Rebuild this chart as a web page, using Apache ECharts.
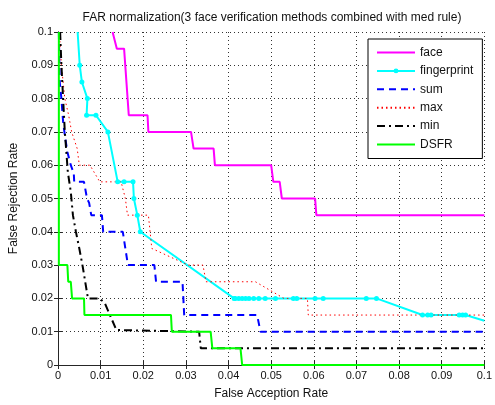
<!DOCTYPE html>
<html>
<head>
<meta charset="utf-8">
<script src="https://cdn.jsdelivr.net/npm/echarts/dist/echarts.min.js"></script>
<style>
html,body{margin:0;padding:0;background:#fff}
#main{width:495px;height:405px}
</style>
</head>
<body>
<div id="main"></div>
<script>
var tickLabels=['0','0.01','0.02','0.03','0.04','0.05','0.06','0.07','0.08','0.09','0.1']
var names=['face','fingerprint','sum','max','min','DSFR']

var face=[[0.0128,0.1],[0.0138,0.095],[0.0155,0.095],[0.0166,0.075],[0.021,0.075],[0.0212,0.07],
  [0.0312,0.07],[0.0318,0.065],[0.0365,0.065],[0.0368,0.06],[0.050,0.06],[0.0505,0.055],
  [0.052,0.055],[0.0525,0.05],[0.0603,0.05],[0.0606,0.045],[0.1,0.045]]
var fingerprint=[[0.0046,0.1],[0.0051,0.09],[0.0056,0.085],[0.0069,0.08],[0.0067,0.075],[0.0089,0.075],
  [0.0117,0.07],[0.014,0.055],[0.0155,0.055],[0.0176,0.055],[0.0178,0.05],[0.0186,0.045],[0.0193,0.04],
  [0.0413,0.02],[0.0416,0.02],[0.0424,0.02],[0.0432,0.02],[0.044,0.02],[0.0448,0.02],[0.0459,0.02],
  [0.0471,0.02],[0.0486,0.02],[0.051,0.02],[0.0552,0.02],[0.056,0.02],[0.0603,0.02],[0.0622,0.02],
  [0.0723,0.02],[0.0747,0.02],[0.0855,0.015],[0.0867,0.015],[0.0875,0.015],[0.0941,0.015],
  [0.0949,0.015],[0.0956,0.015],[0.1,0.0133]]
var sum=[[0.0002,0.1],[0.0004,0.085],[0.0008,0.08],[0.0012,0.073],[0.0016,0.069],[0.0022,0.064],
  [0.003,0.06],[0.0037,0.0576],[0.0038,0.055],[0.0061,0.055],[0.0068,0.05],[0.0073,0.0487],
  [0.0078,0.045],[0.0103,0.045],[0.0106,0.04],[0.0152,0.04],[0.0164,0.03],[0.0226,0.03],
  [0.023,0.025],[0.0292,0.025],[0.0296,0.015],[0.0467,0.015],[0.0475,0.01],[0.1,0.01]]
var max=[[0.0003,0.1],[0.0008,0.09],[0.0012,0.085],[0.0016,0.08],[0.0025,0.075],[0.0032,0.07],
  [0.0045,0.065],[0.005,0.06],[0.0075,0.06],[0.0098,0.055],[0.0148,0.055],[0.0158,0.05],
  [0.0163,0.045],[0.0212,0.045],[0.022,0.035],[0.0305,0.03],[0.034,0.03],[0.0347,0.025],
  [0.0463,0.025],[0.053,0.02],[0.0585,0.02],[0.0587,0.015],[0.1,0.015]]
var min=[[0.0005,0.1],[0.0008,0.09],[0.0012,0.08],[0.0016,0.07],[0.0019,0.065],[0.0023,0.058],
  [0.003,0.052],[0.0035,0.045],[0.0042,0.04],[0.005,0.035],[0.0058,0.0295],[0.0069,0.021],
  [0.007,0.02],[0.0098,0.02],[0.011,0.0185],[0.0137,0.0105],[0.014,0.01],[0.0331,0.01],
  [0.0335,0.005],[0.1,0.005]]
var dsfr=[[0.0002,0.1],[0.0002,0.03],[0.0022,0.03],[0.0024,0.025],[0.003,0.025],[0.0033,0.02],
  [0.0061,0.02],[0.0062,0.015],[0.0265,0.015],[0.0267,0.01],[0.0358,0.01],[0.0362,0.005],
  [0.0428,0.005],[0.0432,0],[0.1,0]]

var myChart=echarts.init(document.getElementById('main'))

function lbl(v){ return tickLabels[Math.round(v*100)] }

var fpData=fingerprint.map(function(p,i){
  var last=i==0||i==fingerprint.length-1
  return last?{value:p,symbol:'none'}:{value:p}
})

// only fingerprint has a marker in the legend
var legendData=names.map(function(n){
  return n=='fingerprint'?{name:n}:{name:n,itemStyle:{opacity:0}}
})

var axisCommon={
  type:'value',min:0,max:0.1,interval:0.01,
  axisLine:{show:true,lineStyle:{color:'#262626',width:1}},
  axisTick:{show:true,inside:true,length:4,lineStyle:{color:'#262626'}},
  axisLabel:{show:true,color:'#111',fontSize:11,fontFamily:'Liberation Sans',margin:5,formatter:lbl},
  splitLine:{show:true,lineStyle:{color:'#333',type:[1,3],width:1}}
}

var option={
  animation:false,
  textStyle:{fontFamily:'Liberation Sans'},
  grid:{left:58,right:8,top:32,bottom:36},
  graphic:[{
    type:'text',x:272,y:18,
    style:{text:'FAR normalization(3 face verification methods combined with med rule)',
      fill:'#111',font:'12px Liberation Sans',textAlign:'center',textVerticalAlign:'middle'}
  }],
  legend:{
    data:legendData,orient:'vertical',left:368,top:39,
    itemWidth:38,itemHeight:6,itemGap:6.4,padding:[7.5,9,8,8],
    borderColor:'#000',borderWidth:1,borderRadius:0,backgroundColor:'#fff',
    textStyle:{fontSize:12,color:'#111',fontFamily:'Liberation Sans'}
  },
  xAxis:[
    Object.assign({},axisCommon,{position:'bottom',name:'False Acception Rate',nameLocation:'middle',nameGap:23,
      nameTextStyle:{fontSize:12,color:'#111'}}),
    Object.assign({},axisCommon,{position:'top',axisLabel:{show:false},splitLine:{show:false}})
  ],
  yAxis:[
    Object.assign({},axisCommon,{position:'left',name:'False Rejection Rate',nameLocation:'middle',nameGap:38,
      nameTextStyle:{fontSize:12,color:'#111'}}),
    Object.assign({},axisCommon,{position:'right',axisLabel:{show:false},splitLine:{show:false}})
  ],
  series:[
    {name:'face',type:'line',data:face,symbol:'none',lineStyle:{color:'#ff00ff',width:2},itemStyle:{color:'#ff00ff'}},
    {name:'fingerprint',type:'line',data:fpData,symbol:'circle',symbolSize:5,showSymbol:true,
      lineStyle:{color:'#00ffff',width:2},itemStyle:{color:'#00ffff'}},
    {name:'sum',type:'line',data:sum,symbol:'none',lineStyle:{color:'#0000ff',width:2,type:[7,5]},itemStyle:{color:'#0000ff'}},
    {name:'max',type:'line',data:max,symbol:'none',lineStyle:{color:'#ff0000',width:1,type:[1.5,3]},itemStyle:{color:'#ff0000'}},
    {name:'min',type:'line',data:min,symbol:'none',lineStyle:{color:'#000000',width:2,type:[8,4,2,4]},itemStyle:{color:'#000000'}},
    {name:'DSFR',type:'line',data:dsfr,symbol:'none',lineStyle:{color:'#00ff00',width:2},itemStyle:{color:'#00ff00'}}
  ]
}
myChart.setOption(option)
</script>
</body>
</html>
